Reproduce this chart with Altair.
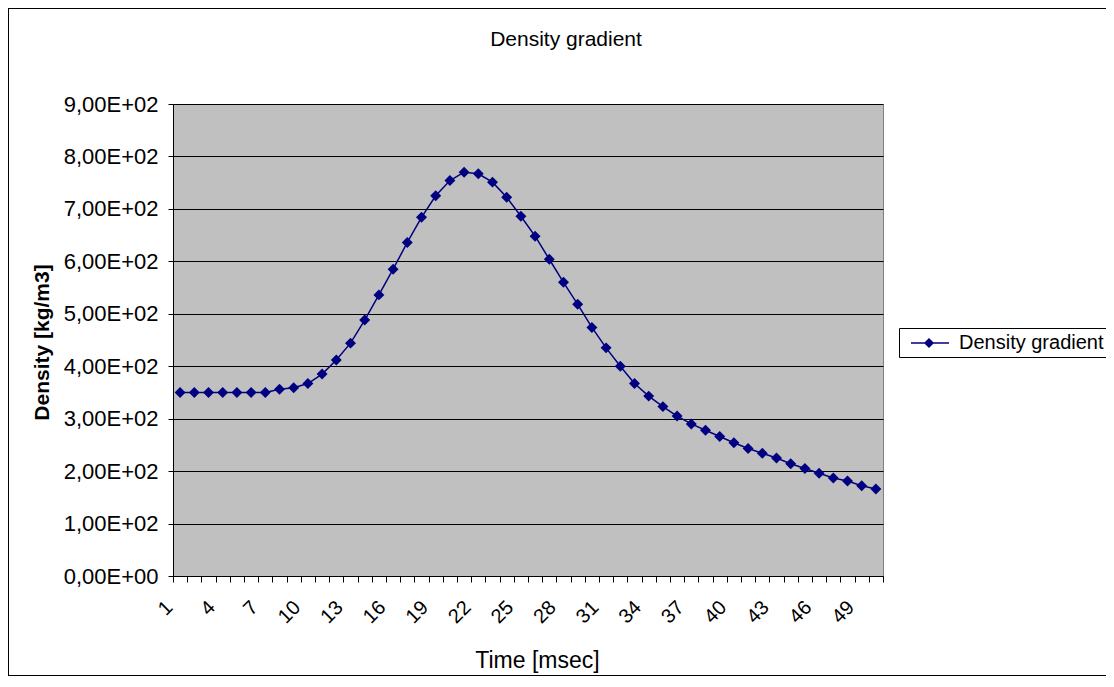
import altair as alt
import pandas as pd

# ---- data ----
time_ms = list(range(1, 51))
density = [350, 350, 350, 350, 350, 350, 350, 356, 359, 367,
           385, 412, 444, 488, 536, 585, 636, 684, 725, 754,
           770, 767, 751, 722, 686, 648, 604, 560, 518, 474,
           435, 400, 367, 343, 323, 305, 290, 278, 266, 254,
           243, 234, 225, 214, 205, 196, 187, 181, 172, 166]
series_name = ["Density gradient"] * len(time_ms)
y_ticks = list(range(0, 901, 100))

df = pd.DataFrame({"t": time_ms, "v": density, "series": series_name})

FONT = "Liberation Sans"
NAVY = "#000080"

x_enc = alt.X(
    "t:O",
    scale=alt.Scale(type="band", paddingInner=0, paddingOuter=0),
    axis=alt.Axis(
        title="Time [msec]",
        titleFontSize=23, titleFontWeight="normal", titleColor="black",
        titleX=364, titleY=84, titleBaseline="middle", titleAlign="center",
        labelAngle=-45, labelAlign="right", labelBaseline="middle",
        labelOffset=-11, labelPadding=22, labelFontSize=20, labelColor="black",
        labelExpr="(datum.value - 1) % 3 == 0 ? datum.value + '' : ''",
        labelOverlap=False,
        tickBand="extent", tickSize=6, tickColor="black",
        domainColor="black", grid=False,
    ),
)
y_enc = alt.Y(
    "v:Q",
    scale=alt.Scale(domain=[0, 900], nice=False, zero=True),
    axis=alt.Axis(
        title="Density [kg/m3]",
        titleFontSize=21, titleFontWeight="bold", titleColor="black",
        titleAngle=-90, titleX=-131, titleY=238, titleAlign="center", titleBaseline="middle",
        values=y_ticks,
        labelExpr="datum.value == 0 ? '0,00E+00' : replace(format(datum.value / 100, '.2f'), '.', ',') + 'E+02'",
        labelFontSize=22, labelColor="black", labelPadding=10,
        tickSize=5, tickColor="black", domainColor="black",
        grid=True, gridColor="black", gridWidth=1,
    ),
)

frame = alt.Chart(df).mark_rect(fill=None, stroke="black", strokeWidth=1).encode(
    x=alt.value(-164.5), x2=alt.value(1200), y=alt.value(-95.5), y2=alt.value(571.5)
)

line = alt.Chart(df).mark_line(color=NAVY, strokeWidth=1.5).encode(x=x_enc, y=y_enc)

legend_path = "M-0.3,0L1.1,0L1.5,-0.4L1.9,0L3.5,0L1.9,0L1.5,0.4L1.1,0Z"

points = alt.Chart(df).mark_point(shape="diamond", filled=True, size=120, opacity=1).encode(
    x=x_enc,
    y=y_enc,
    color=alt.Color(
        "series:N",
        scale=alt.Scale(range=[NAVY]),
        legend=alt.Legend(
            title=None, orient="none", legendX=726, legendY=224,
            symbolType=legend_path, symbolSize=400,
            symbolStrokeColor=NAVY, symbolFillColor=NAVY, symbolStrokeWidth=1.5,
            labelFontSize=20, labelColor="black", labelOffset=34, labelLimit=400,
            padding=4, strokeColor="black", fillColor="white",
        ),
    ),
)

chart = alt.layer(frame, line, points).properties(
    width=710,
    height=472,
    padding={"left": 165, "top": 96, "right": 223, "bottom": 100},
    autosize=alt.AutoSizeParams(type="none"),
    title=alt.TitleParams(
        "Density gradient", fontSize=21, fontWeight="normal", color="black",
        anchor="middle", dx=38, offset=-53, baseline="middle",
    ),
).configure(
    font=FONT,
    background="white",
).configure_view(
    fill="#C0C0C0", stroke="#808080", strokeWidth=1,
)

chart.save("out.html", embed_options={"renderer": "svg", "actions": False})
